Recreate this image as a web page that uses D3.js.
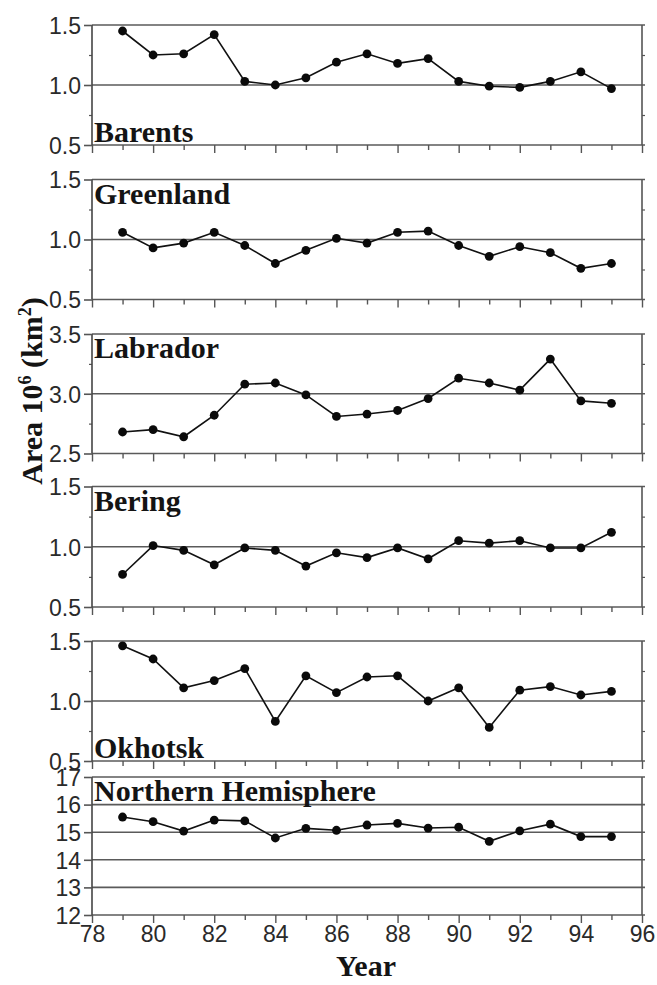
<!DOCTYPE html>
<html><head><meta charset="utf-8">
<script src="https://cdn.jsdelivr.net/npm/d3@7"></script>
<style>
body{margin:0;background:#fff;}
svg{display:block;}
.tick text{font-family:"Liberation Sans",Arial,sans-serif;font-size:23px;fill:#2a2a2a;}
.plabel{font-family:"Liberation Serif","Times New Roman",serif;font-weight:bold;font-size:30px;fill:#141414;}
</style></head>
<body>
<script>
const years = [79,80,81,82,83,84,85,86,87,88,89,90,91,92,93,94,95];
const barents   = [1.45,1.25,1.26,1.42,1.03,1.00,1.06,1.19,1.26,1.18,1.22,1.03,0.99,0.98,1.03,1.11,0.97];
const greenland = [1.06,0.93,0.97,1.06,0.95,0.80,0.91,1.01,0.97,1.06,1.07,0.95,0.86,0.94,0.89,0.76,0.80];
const labrador  = [2.68,2.70,2.64,2.82,3.08,3.09,2.99,2.81,2.83,2.86,2.96,3.13,3.09,3.03,3.29,2.94,2.92];
const bering    = [0.77,1.01,0.97,0.85,0.99,0.97,0.84,0.95,0.91,0.99,0.90,1.05,1.03,1.05,0.99,0.99,1.12];
const okhotsk   = [1.46,1.35,1.11,1.17,1.27,0.83,1.21,1.07,1.20,1.21,1.00,1.11,0.78,1.09,1.12,1.05,1.08];
const northernHemisphere = [15.55,15.38,15.04,15.44,15.41,14.79,15.14,15.07,15.26,15.32,15.15,15.18,14.67,15.05,15.29,14.84,14.84];
const panelNames = ["Barents","Greenland","Labrador","Bering","Okhotsk","Northern Hemisphere"];
const yTicksSmall = [0.5,1.0,1.5];
const yTicksLabrador = [2.5,3.0,3.5];
const yTicksNH = [12,13,14,15,16,17];
const xTickLabels = [78,80,82,84,86,88,90,92,94,96];
const xTicksAll = d3.range(78,97,1);

const series = [barents,greenland,labrador,bering,okhotsk,northernHemisphere];
const tickSets = [yTicksSmall,yTicksSmall,yTicksLabrador,yTicksSmall,yTicksSmall,yTicksNH];

// layout (pixels)
const W=657,H=985, L=92, R=642;
const tops=[25,179.5,334,486.5,641,777];
const heights=[120,120,119.5,120.5,120,138];
const labelPos=["bottom","top","top","top","bottom","top"];

const svg=d3.select("body").append("svg").attr("width",W).attr("height",H);
const x=d3.scaleLinear().domain([78,96]).range([L,R]);

series.forEach((vals,i)=>{
  const ticks=tickSets[i];
  const y=d3.scaleLinear().domain([ticks[0],ticks[ticks.length-1]]).range([tops[i]+heights[i],tops[i]]);
  const g=svg.append("g");
  // gridlines
  g.selectAll("line.grid").data(ticks).join("line")
    .attr("x1",L).attr("x2",R+3).attr("y1",d=>y(d)).attr("y2",d=>y(d))
    .attr("stroke","#5a5a5a").attr("stroke-width",1.6);
  // minor ticks (half steps)
  const step=ticks[1]-ticks[0];
  const minors=ticks.slice(0,-1).map(d=>d+step/2);
  if(i<5){
    g.append("g").attr("transform",`translate(${L},0)`)
      .call(d3.axisLeft(y).tickValues(minors).tickSize(3).tickFormat(""))
      .call(a=>a.select(".domain").remove())
      .selectAll("line").attr("stroke","#555").attr("stroke-width",1.2);
    g.append("g").attr("transform",`translate(${R},0)`)
      .call(d3.axisRight(y).tickValues(minors).tickSize(3).tickFormat(""))
      .call(a=>a.select(".domain").remove())
      .selectAll("line").attr("stroke","#555").attr("stroke-width",1.2);
  }
  // left axis
  const fmt = i===5 ? d3.format("d") : d3.format(".1f");
  const la=g.append("g").attr("transform",`translate(${L},0)`)
    .call(d3.axisLeft(y).tickValues(ticks).tickSize(8).tickPadding(3).tickFormat(fmt));
  la.select(".domain").attr("d",`M0,${y.range()[0]}V${y.range()[1]}`).attr("stroke","#444").attr("stroke-width",1.6);
  la.selectAll(".tick line").attr("stroke","#555").attr("stroke-width",1.6);
  la.selectAll(".tick text").attr("dy","0.36em");
  // right axis line
  g.append("line").attr("x1",R).attr("x2",R).attr("y1",y.range()[0]).attr("y2",y.range()[1])
    .attr("stroke","#555").attr("stroke-width",1.6);
  // bottom axis ticks
  const ba=g.append("g").attr("transform",`translate(0,${y.range()[0]})`)
    .call(d3.axisBottom(x).tickValues(xTicksAll).tickSizeInner(5).tickSizeOuter(0)
      .tickPadding(3).tickFormat(d=> (i===5 && xTickLabels.includes(d)) ? d : ""));
  ba.select(".domain").remove();
  ba.selectAll(".tick line").attr("stroke","#555").attr("stroke-width",1.4)
    .attr("y2",d=>d%2===0?8:5);
  ba.selectAll(".tick text").attr("y",11);
  // line and points
  const line=d3.line().x((d,j)=>x(years[j])).y(d=>y(d));
  g.append("path").datum(vals).attr("d",line).attr("fill","none")
    .attr("stroke","#111").attr("stroke-width",1.6);
  g.selectAll("circle").data(vals).join("circle")
    .attr("cx",(d,j)=>x(years[j])).attr("cy",d=>y(d)).attr("r",4.4).attr("fill","#0a0a0a");
  // panel label
  const ly = labelPos[i]==="bottom" ? y.range()[0]-3 : y.range()[1]+24;
  g.append("text").attr("class","plabel").attr("x",L+2).attr("y",ly).text(panelNames[i]);
});

// axis titles
const yt=svg.append("text").attr("class","plabel")
  .attr("transform","translate(42,391) rotate(-90)").attr("text-anchor","middle");
yt.append("tspan").text("Area 10");
yt.append("tspan").attr("font-size","18px").attr("dy","-11").text("6");
yt.append("tspan").attr("dy","11").text(" (km");
yt.append("tspan").attr("font-size","18px").attr("dy","-11").text("2");
yt.append("tspan").attr("dy","11").text(")");

svg.append("text").attr("class","plabel").attr("x",366).attr("y",976)
  .attr("text-anchor","middle").text("Year");
</script>
</body></html>
